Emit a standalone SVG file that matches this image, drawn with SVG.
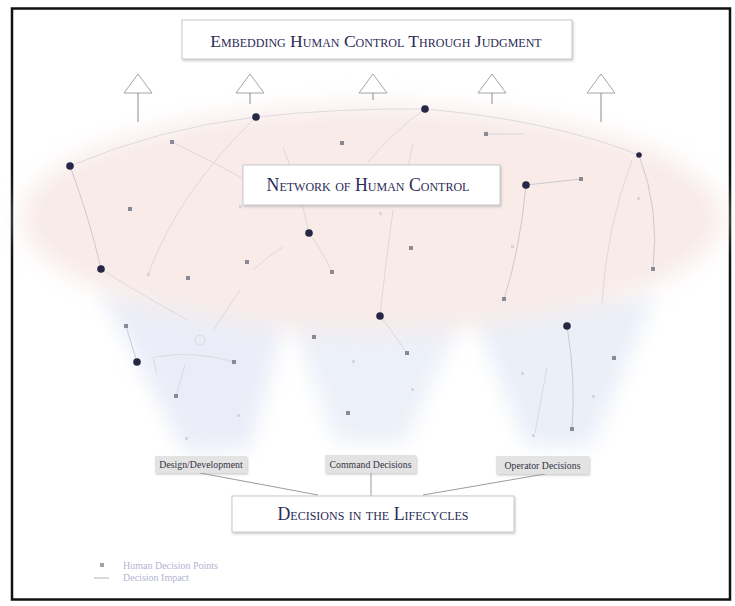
<svg xmlns="http://www.w3.org/2000/svg" width="735" height="606" viewBox="0 0 735 606">
<style>
.title{font-family:"Liberation Serif","DejaVu Serif",serif;font-variant:small-caps;fill:#2b2b55;text-anchor:middle}
.box{fill:#ffffff;stroke:#c9c9cc;stroke-width:1}
.lbl{fill:#e3e3e3;stroke:none}
.lbltxt{font-family:"Liberation Serif","DejaVu Serif",serif;font-size:9.8px;fill:#333344;text-anchor:middle}
.big{fill:#262645}
.sq{fill:#8a8a94}
.faint{fill:#d6d6dc}
.con path,.con line,.con circle{fill:none;stroke:#d4d4d8;stroke-width:0.8}
.con .dk{stroke:#c0c0c8}
.arrow{fill:#ffffff;stroke:#9a9aa0;stroke-width:0.9}
.stem{stroke:#8a8a90;stroke-width:1}
.leg{font-family:"Liberation Serif","DejaVu Serif",serif;font-size:10px;fill:#b4b4d4}
.link{stroke:#8f8f99;stroke-width:0.9;fill:none}
</style>
<defs>
<filter id="blur" x="-10%" y="-25%" width="120%" height="150%"><feGaussianBlur stdDeviation="12"/></filter>
<filter id="blur2" x="-30%" y="-30%" width="160%" height="160%"><feGaussianBlur stdDeviation="10"/></filter>
<filter id="sh" x="-5%" y="-20%" width="110%" height="150%"><feDropShadow dx="1" dy="1.5" stdDeviation="1.2" flood-color="#999" flood-opacity="0.5"/></filter>
</defs>
<rect x="0" y="0" width="735" height="606" fill="#ffffff"/>
<rect x="12" y="8.5" width="718" height="591" fill="#ffffff" stroke="#111111" stroke-width="2.5"/>

<g id="background">
<polygon points="100,290 290,300 250,448 185,452" fill="#eaedf8" filter="url(#blur2)"/>
<polygon points="285,300 470,300 405,442 335,442" fill="#ecf0f8" filter="url(#blur2)"/>
<polygon points="465,295 655,295 592,446 526,446" fill="#eaeff8" filter="url(#blur2)"/>
<ellipse cx="372" cy="218" rx="350" ry="112" fill="#f8ebe8" filter="url(#blur)"/>
</g>

<g id="title">
<rect x="182" y="20" width="390" height="39" class="box" filter="url(#sh)"/>
<text x="376" y="47" class="title" font-size="17.6">Embedding Human Control Through Judgment</text>
</g>

<g id="arrows">
<polygon points="138,74 124,93 152,93" class="arrow"/><line x1="138" y1="93" x2="138" y2="122" class="stem"/>
<polygon points="250,74 236,93 264,93" class="arrow"/><line x1="250" y1="93" x2="250" y2="104" class="stem"/>
<polygon points="373,74 359,93 387,93" class="arrow"/><line x1="373" y1="93" x2="373" y2="100" class="stem"/>
<polygon points="492,74 478,93 506,93" class="arrow"/><line x1="492" y1="93" x2="492" y2="104" class="stem"/>
<polygon points="601,74 587,93 615,93" class="arrow"/><line x1="601" y1="93" x2="601" y2="122" class="stem"/>
</g>

<g id="connectors" class="con">
<path d="M70,166 Q160,128 256,117"/>
<path d="M256,117 Q340,108 425,109"/>
<path d="M425,109 Q550,120 639,155"/>
<path d="M486,134 L525,134"/>
<path class="dk" d="M70,166 Q90,220 101,269"/>
<path d="M256,117 Q180,190 148,274"/>
<path d="M172,142 Q210,160 242,178"/>
<path d="M425,109 Q395,130 368,162"/>
<path d="M413,143 L408,167"/>
<path d="M393,210 Q386,260 380,316"/>
<path d="M283,147 Q300,190 309,233"/>
<path d="M309,233 Q325,255 332,272"/>
<path d="M253,270 Q270,255 283,247"/>
<path class="dk" d="M526,185 L581,179"/>
<path class="dk" d="M526,185 Q520,250 504,299"/>
<path class="dk" d="M639,155 Q660,210 653,269"/>
<path d="M632,160 Q606,230 602,303"/>
<path d="M101,269 Q150,300 188,320"/>
<path class="dk" d="M126,326 L137,362"/>
<path d="M155,357 Q195,350 234,362"/>
<path d="M185,365 L176,396"/>
<path d="M153,357 L157,375"/>
<circle cx="200" cy="340" r="5"/>
<path d="M213,330 L240,290"/>
<path class="dk" d="M567,326 Q576,380 572,429"/>
<path d="M547,367 L535,433"/>
<path d="M380,316 Q395,335 407,353"/>
</g>

<g id="network-label">
<rect x="243" y="165" width="257" height="40" class="box" filter="url(#sh)"/>
<text x="368" y="191" class="title" font-size="17.8">Network of Human Control</text>
</g>

<g id="n1"><circle cx="70" cy="166" r="3.8" class="big"/></g>
<g id="n2"><circle cx="256" cy="117" r="3.8" class="big"/></g>
<g id="n3"><circle cx="425" cy="109" r="3.8" class="big"/></g>
<g id="n4"><circle cx="309" cy="233" r="3.8" class="big" fill="#2a2a5c"/></g>
<g id="n5"><circle cx="101" cy="269" r="3.8" class="big"/></g>
<g id="n6"><circle cx="380" cy="316" r="3.8" class="big"/></g>
<g id="n7"><circle cx="526" cy="185" r="3.8" class="big"/></g>
<g id="n8"><circle cx="567" cy="326" r="3.8" class="big"/></g>
<g id="n9"><circle cx="137" cy="362" r="3.8" class="big"/></g>
<g id="n10"><circle cx="639" cy="155" r="2.8" class="big"/></g>

<g id="s1"><rect x="170" y="140" width="4" height="4" class="sq"/></g>
<g id="s2"><rect x="340" y="141" width="4" height="4" class="sq"/></g>
<g id="s3"><rect x="484" y="132" width="4" height="4" class="sq"/></g>
<g id="s4"><rect x="128" y="207" width="4" height="4" class="sq"/></g>
<g id="s5"><rect x="186" y="276" width="4" height="4" class="sq"/></g>
<g id="s6"><rect x="245" y="260" width="4" height="4" class="sq"/></g>
<g id="s7"><rect x="330" y="270" width="4" height="4" class="sq"/></g>
<g id="s8"><rect x="409" y="246" width="4" height="4" class="sq"/></g>
<g id="s9"><rect x="579" y="177" width="4" height="4" class="sq"/></g>
<g id="s10"><rect x="651" y="267" width="4" height="4" class="sq"/></g>
<g id="s11"><rect x="502" y="297" width="4" height="4" class="sq"/></g>
<g id="s12"><rect x="124" y="324" width="4" height="4" class="sq"/></g>
<g id="s13"><rect x="232" y="360" width="4" height="4" class="sq"/></g>
<g id="s14"><rect x="174" y="394" width="4" height="4" class="sq"/></g>
<g id="s15"><rect x="312" y="335" width="4" height="4" class="sq"/></g>
<g id="s16"><rect x="405" y="351" width="4" height="4" class="sq"/></g>
<g id="s17"><rect x="612" y="356" width="4" height="4" class="sq"/></g>
<g id="s18"><rect x="570" y="427" width="4" height="4" class="sq"/></g>
<g id="s19"><rect x="346" y="411" width="4" height="4" class="sq"/></g>
<g id="f1"><rect x="239" y="205" width="3" height="3" class="faint"/></g>
<g id="f2"><rect x="147" y="273" width="3" height="3" class="faint"/></g>
<g id="f3"><rect x="237" y="414" width="3" height="3" class="faint"/></g>
<g id="f4"><rect x="185" y="437" width="3" height="3" class="faint"/></g>
<g id="f5"><rect x="352" y="360" width="3" height="3" class="faint"/></g>
<g id="f6"><rect x="521" y="372" width="3" height="3" class="faint"/></g>
<g id="f7"><rect x="592" y="395" width="3" height="3" class="faint"/></g>
<g id="f8"><rect x="411" y="388" width="3" height="3" class="faint"/></g>
<g id="f9"><rect x="532" y="434" width="3" height="3" class="faint"/></g>
<g id="f10"><rect x="637" y="197" width="3" height="3" class="faint"/></g>
<g id="f11"><rect x="379" y="212" width="3" height="3" class="faint"/></g>
<g id="f12"><rect x="511" y="245" width="3" height="3" class="faint"/></g>

<g id="lifecycle-links">
<path d="M200,473 L318,495" class="link"/>
<path d="M371,473 L371,496" class="link"/>
<path d="M545,474 L423,495" class="link"/>
</g>

<g id="design">
<rect x="155" y="456" width="92" height="17" class="lbl" filter="url(#sh)"/>
<text x="201" y="467.5" class="lbltxt">Design/Development</text>
</g>
<g id="command">
<rect x="325" y="455" width="91" height="18" class="lbl" filter="url(#sh)"/>
<text x="370.5" y="467.5" class="lbltxt">Command Decisions</text>
</g>
<g id="operator">
<rect x="496" y="456" width="93" height="18" class="lbl" filter="url(#sh)"/>
<text x="542.5" y="468.5" class="lbltxt">Operator Decisions</text>
</g>

<g id="lifecycle">
<rect x="232" y="496" width="282" height="36" class="box" filter="url(#sh)"/>
<text x="373" y="520" class="title" font-size="17.8">Decisions in the Lifecycles</text>
</g>

<g id="legend">
<rect x="100" y="563" width="4" height="4" fill="#a0a0aa"/>
<text x="123" y="568.5" class="leg">Human Decision Points</text>
<line x1="94" y1="578" x2="109" y2="578" stroke="#a0a0aa" stroke-width="0.8"/>
<text x="123" y="580.5" class="leg">Decision Impact</text>
</g>
</svg>
